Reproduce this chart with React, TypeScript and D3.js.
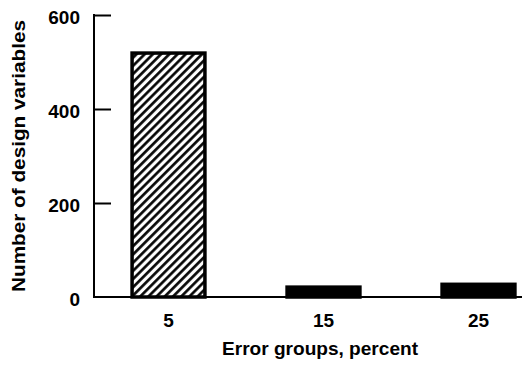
import React, { useEffect, useRef } from "react";
import * as d3 from "d3";

const categories = ["5", "15", "25"];
const counts = [519, 21, 27];
const yTicks = [0, 200, 400, 600];

const W = 527;
const H = 367;
const FONT = "'Liberation Sans', Arial, Helvetica, sans-serif";

export default function App() {
  const svgRef = useRef<SVGSVGElement | null>(null);

  useEffect(() => {
    const svg = d3.select(svgRef.current);
    svg.selectAll("*").remove();

    const x = d3
      .scaleBand<string>()
      .domain(categories)
      .range([91, 556])
      .paddingInner(0.53)
      .paddingOuter(0.265);
    const y = d3.scaleLinear().domain([0, 600]).range([297, 15]);
    const axisX = 94;

    // diagonal hatch used by the bars
    const defs = svg.append("defs");
    const pat = defs
      .append("pattern")
      .attr("id", "hatch")
      .attr("patternUnits", "userSpaceOnUse")
      .attr("width", 5.8)
      .attr("height", 5.8)
      .attr("patternTransform", "rotate(45)");
    pat.append("rect").attr("width", 5.8).attr("height", 5.8).attr("fill", "#fff");
    pat
      .append("line")
      .attr("x1", 1.4)
      .attr("y1", 0)
      .attr("x2", 1.4)
      .attr("y2", 5.8)
      .attr("stroke", "#000")
      .attr("stroke-width", 2.6);

    // bars
    svg
      .append("g")
      .selectAll("rect")
      .data(counts)
      .join("rect")
      .attr("x", (d, i) => x(categories[i])!)
      .attr("y", (d) => y(d))
      .attr("width", x.bandwidth())
      .attr("height", (d) => y(0) - y(d))
      .attr("fill", (d) => (d < 100 ? "#000" : "url(#hatch)"))
      .attr("stroke", "#000")
      .attr("stroke-width", 3.5);

    // y axis, ticks pointing inward
    const yAxis = svg
      .append("g")
      .attr("transform", `translate(${axisX},0)`)
      .call(d3.axisRight(y).tickValues(yTicks).tickSize(17).tickFormat(() => ""));
    yAxis.select(".domain").remove();
    yAxis.selectAll(".tick line").attr("stroke", "#000").attr("stroke-width", 2);
    yAxis.selectAll(".tick").filter((d) => d === 0).remove();

    svg
      .append("line")
      .attr("x1", axisX)
      .attr("x2", axisX)
      .attr("y1", y(600) - 1)
      .attr("y2", y(0))
      .attr("stroke", "#000")
      .attr("stroke-width", 2);
    svg
      .append("line")
      .attr("x1", axisX - 1)
      .attr("x2", 522)
      .attr("y1", y(0))
      .attr("y2", y(0))
      .attr("stroke", "#000")
      .attr("stroke-width", 2);

    svg
      .append("g")
      .selectAll("text")
      .data(yTicks)
      .join("text")
      .attr("x", 80)
      .attr("y", (d) => y(d) + 9)
      .attr("text-anchor", "end")
      .attr("font-family", FONT)
      .attr("font-weight", "bold")
      .attr("font-size", 19)
      .text((d) => d);

    svg
      .append("g")
      .selectAll("text")
      .data(categories)
      .join("text")
      .attr("x", (d) => x(d)! + x.bandwidth() / 2)
      .attr("y", 327)
      .attr("text-anchor", "middle")
      .attr("font-family", FONT)
      .attr("font-weight", "bold")
      .attr("font-size", 19)
      .text((d) => d);

    svg
      .append("text")
      .attr("x", 320)
      .attr("y", 355)
      .attr("text-anchor", "middle")
      .attr("font-family", FONT)
      .attr("font-weight", "bold")
      .attr("font-size", 18)
      .attr("textLength", 196)
      .attr("lengthAdjust", "spacingAndGlyphs")
      .text("Error groups, percent");

    svg
      .append("text")
      .attr("transform", "translate(25,156) rotate(-90)")
      .attr("text-anchor", "middle")
      .attr("font-family", FONT)
      .attr("font-weight", "bold")
      .attr("font-size", 18)
      .attr("textLength", 272)
      .attr("lengthAdjust", "spacingAndGlyphs")
      .text("Number of design variables");
  }, []);

  return (
    <svg
      ref={svgRef}
      width={W}
      height={H}
      style={{ position: "absolute", left: 0, top: 0, background: "#fff" }}
    />
  );
}
